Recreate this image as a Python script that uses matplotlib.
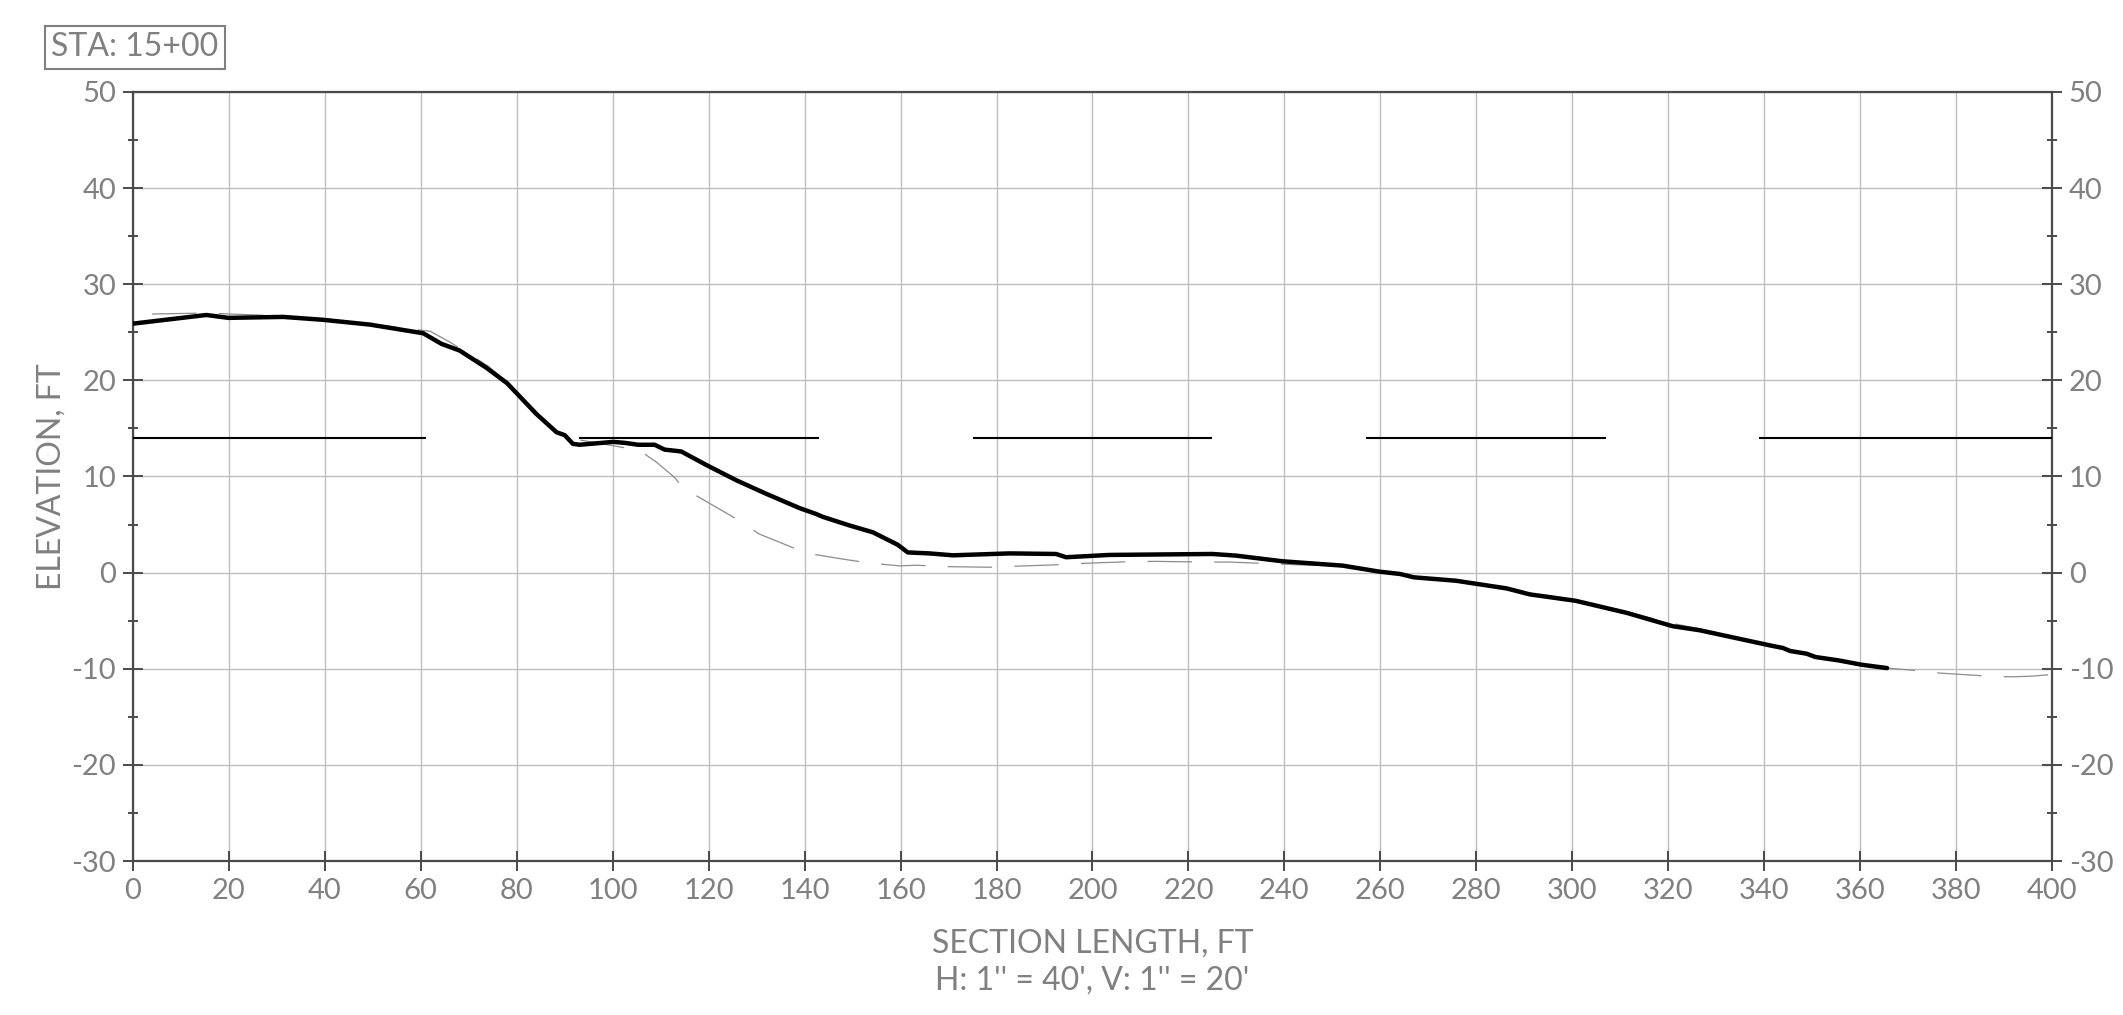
import matplotlib
matplotlib.use("Agg")
import matplotlib.pyplot as plt
from matplotlib.ticker import MultipleLocator

plt.rcParams['font.family'] = ['Lato', 'DejaVu Sans']
plt.rcParams['axes.unicode_minus'] = False
plt.rcParams['lines.scale_dashes'] = False

# Existing ground profile (thick line)
ground_x = [0, 15.3, 19.9, 31.3, 39.6, 49.4, 60.5, 64.3, 68.1, 73.7, 78.0,
            84.1, 88.3, 90.0, 91.7, 93.1, 100.1, 102.5, 105.3, 108.75, 110.8,
            114.3, 119.5, 125.8, 132.0, 139.0, 142.4, 143.8, 149.4, 154.2, 157.0,
            159.4, 161.5, 166.0, 170.9, 182.7, 192.4, 194.5, 203.5, 225.0,
            229.9, 239.6, 252.1, 259.8, 264.1, 267.0, 275.7, 286.3, 291.1,
            300.7, 311.3, 320.9, 326.6, 341.1, 343.9, 345.4, 348.8, 350.7,
            355.5, 360.3, 365.6]
ground_y = [25.9, 26.8, 26.5, 26.6, 26.3, 25.8, 24.9, 23.8, 23.1, 21.3, 19.7,
            16.5, 14.6, 14.3, 13.4, 13.3, 13.6, 13.5, 13.3, 13.3, 12.8,
            12.6, 11.2, 9.6, 8.2, 6.7, 6.1, 5.8, 4.9, 4.2, 3.5,
            2.9, 2.1, 2.0, 1.8, 2.0, 1.94, 1.6, 1.84, 1.94,
            1.77, 1.18, 0.73, 0.1, -0.14, -0.49, -0.84, -1.64, -2.26,
            -2.93, -4.18, -5.57, -6.0, -7.56, -7.84, -8.15, -8.43, -8.78,
            -9.13, -9.58, -9.93]

# Proposed surface (dashed)
surface_x = [4.0, 15.0, 31.0, 49.0, 62.0, 66.0, 74.0, 78.0, 84.0, 88.3, 90.0,
             93.1, 100.1, 105.6, 109.1, 112.9, 114.65, 120.9, 125.4, 130.6,
             134.1, 139.0, 140.7, 148.7, 153.5, 159.8, 163.3, 168.8, 178.4,
             183.4, 193.5, 198.3, 208.4, 213.2, 223.3, 228.4, 238.6, 243.5,
             252.1, 259.8, 267.0, 286.3, 300.7, 311.3, 320.0, 326.6, 341.1,
             350.7, 360.3, 365.6, 371.3, 376.6, 386.7, 391.5, 395.9, 399.7]
surface_y = [26.9, 27.0, 26.7, 25.9, 25.1, 24.0, 21.5, 19.8, 16.6, 14.7, 14.4,
             13.8, 13.2, 12.7, 11.5, 9.9, 8.8, 7.0, 5.7, 4.0,
             3.3, 2.3, 2.0, 1.35, 1.0, 0.7, 0.77, 0.63, 0.56,
             0.66, 0.83, 0.97, 1.15, 1.17, 1.1, 1.1, 0.9, 0.8,
             0.7, 0.15, -0.45, -1.6, -2.9, -4.05, -5.2, -5.85, -7.5,
             -8.7, -9.55, -9.93, -10.17, -10.45, -10.77, -10.84, -10.77, -10.6]

# Horizontal reference segments at elevation 14
ref_level = 14
ref_starts = [0, 93, 175, 257, 339]
ref_ends = [61, 143, 225, 307, 400]

x_ticks = list(range(0, 401, 20))
y_ticks = list(range(-30, 51, 10))

label_gray = '#808080'
spine_gray = '#4a4a4a'

fig = plt.figure(figsize=(21.23, 10.15), dpi=100)
ax = fig.add_axes([0.0626, 0.1517, 0.9040, 0.7577])

ax.set_xlim(0, 400)
ax.set_ylim(-30, 50)
ax.set_xticks(x_ticks)
ax.set_yticks(y_ticks)
ax.yaxis.set_minor_locator(MultipleLocator(5))
ax.grid(True, which='major', color='#bdbdbd', linewidth=1.0)
ax.set_axisbelow(True)

for s in ax.spines.values():
    s.set_color(spine_gray)
    s.set_linewidth(1.6)

ax.tick_params(axis='both', which='major', direction='inout', length=14,
               width=1.4, color=spine_gray, labelcolor=label_gray,
               labelsize=21)
ax.tick_params(axis='y', which='both', left=True, right=True,
               labelleft=True, labelright=True)
ax.tick_params(axis='y', which='minor', direction='inout', length=7,
               width=1.4, color=spine_gray)
ax.tick_params(axis='x', which='major', pad=5)
ax.tick_params(axis='y', which='major', pad=5)

for xs, xe in zip(ref_starts, ref_ends):
    ax.plot([xs, xe], [ref_level, ref_level], color='black', linewidth=1.5,
            solid_capstyle='butt', zorder=3)

ax.plot(surface_x, surface_y, color='#8c8c8c', linewidth=0.9,
        dashes=(32, 16), zorder=3)
ax.plot(ground_x, ground_y, color='black', linewidth=3.2,
        solid_joinstyle='round', solid_capstyle='round', zorder=4)

ax.set_ylabel('ELEVATION, FT', color=label_gray, fontsize=23, labelpad=4)
ax.set_xlabel("SECTION LENGTH, FT\nH: 1'' = 40', V: 1'' = 20'",
              color=label_gray, fontsize=23, labelpad=18, linespacing=1.3)

fig.text(0.0240, 0.968, 'STA: 15+00', color=label_gray, fontsize=23,
         ha='left', va='top',
         bbox=dict(boxstyle='square,pad=0.2', facecolor='white',
                   edgecolor=label_gray, linewidth=1.5))

fig.savefig('out.png', dpi=100)
